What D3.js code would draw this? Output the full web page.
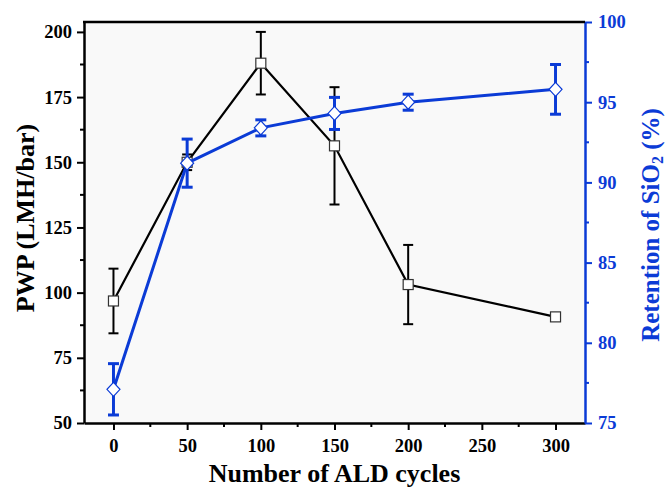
<!DOCTYPE html>
<html><head><meta charset="utf-8">
<script src="https://cdn.jsdelivr.net/npm/d3@7"></script>
<style>body{margin:0;background:#fff}svg{display:block}svg text{font-family:"Liberation Serif",serif;font-weight:bold}</style>
</head><body>
<script>
const cycles = [0, 50, 100, 150, 200, 300];
const pwp = [96.8, 150, 188, 156.3, 103.1, 90.7];
const pwpErr = [12.4, 3, 12, 22.5, 15.2, 1];
const retention = [77.1, 91.2, 93.4, 94.3, 95.0, 95.8];
const retentionErr = [1.6, 1.5, 0.5, 1.0, 0.5, 1.55];
const xTicks = [0, 50, 100, 150, 200, 250, 300];
const leftTicks = [50, 75, 100, 125, 150, 175, 200];
const rightTicks = [75, 80, 85, 90, 95, 100];

const W = 668, H = 487;
const m = {l: 84, t: 22, r: 585, b: 423};
const BLUE = "#0b3bd6";
const FONT = "Liberation Serif";

const svg = d3.select("body").append("svg").attr("width", W).attr("height", H);
const x = d3.scaleLinear().domain([-20, 320]).range([m.l, m.r]);
const yL = d3.scaleLinear().domain([50, 203.8]).range([m.b, m.t]);
const yR = d3.scaleLinear().domain([75, 100]).range([m.b, m.t]);

svg.append("rect").attr("x", m.l).attr("y", m.t).attr("width", m.r - m.l).attr("height", m.b - m.t)
  .attr("fill", "#f9f9f9");

function styleAxis(g, color) {
  g.attr("font-family", FONT);
  g.selectAll("path").attr("stroke", color).attr("stroke-width", 2.5);
  g.selectAll("line").attr("stroke", color).attr("stroke-width", 2);
  g.selectAll("text").attr("fill", color).style("font-family", FONT).style("font-weight", "bold").style("font-size", "18.5px");
}

const xMinor = d3.range(25, 325, 50);
const lMinor = d3.range(62.5, 200, 25);
const rMinor = d3.range(77.5, 100, 5);

const gx = svg.append("g").attr("transform", `translate(0,${m.b})`)
  .call(d3.axisBottom(x).tickValues(xTicks).tickSize(7).tickSizeOuter(0).tickPadding(9));
gx.selectAll("minor").data(xMinor).enter().append("line")
  .attr("x1", d => x(d)).attr("x2", d => x(d)).attr("y1", 0).attr("y2", 4);
styleAxis(gx, "#000");

const gl = svg.append("g").attr("transform", `translate(${m.l},0)`)
  .call(d3.axisLeft(yL).tickValues(leftTicks).tickSize(7).tickSizeOuter(0).tickPadding(5));
gl.selectAll("minor").data(lMinor).enter().append("line")
  .attr("x1", 0).attr("x2", -4).attr("y1", d => yL(d)).attr("y2", d => yL(d));
styleAxis(gl, "#000");

const gr = svg.append("g").attr("transform", `translate(${m.r},0)`)
  .call(d3.axisRight(yR).tickValues(rightTicks).tickSize(7).tickSizeOuter(0).tickPadding(6));
gr.selectAll("minor").data(rMinor).enter().append("line")
  .attr("x1", 0).attr("x2", 4).attr("y1", d => yR(d)).attr("y2", d => yR(d));
styleAxis(gr, BLUE);

// top frame
svg.append("line").attr("x1", m.l - 1).attr("x2", m.r).attr("y1", m.t).attr("y2", m.t)
  .attr("stroke", "#000").attr("stroke-width", 2.5);

const pwpData = cycles.map((c, i) => ({x: c, y: pwp[i], e: pwpErr[i]}));
const retData = cycles.map((c, i) => ({x: c, y: retention[i], e: retentionErr[i]}));

// PWP series
svg.append("path").datum(pwpData)
  .attr("d", d3.line().x(d => x(d.x)).y(d => yL(d.y)))
  .attr("fill", "none").attr("stroke", "#000").attr("stroke-width", 2.2);
const eb1 = svg.append("g").attr("stroke", "#000").attr("stroke-width", 2);
pwpData.forEach(d => {
  eb1.append("line").attr("x1", x(d.x)).attr("x2", x(d.x)).attr("y1", yL(d.y - d.e)).attr("y2", yL(d.y + d.e));
  [d.y - d.e, d.y + d.e].forEach(v => eb1.append("line").attr("x1", x(d.x) - 5).attr("x2", x(d.x) + 5).attr("y1", yL(v)).attr("y2", yL(v)));
});
svg.append("g").selectAll("rect").data(pwpData).enter().append("rect")
  .attr("x", d => x(d.x) - 5).attr("y", d => yL(d.y) - 5).attr("width", 10).attr("height", 10)
  .attr("fill", "#fff").attr("stroke", "#333").attr("stroke-width", 1.2);

// Retention series
svg.append("path").datum(retData)
  .attr("d", d3.line().x(d => x(d.x)).y(d => yR(d.y)))
  .attr("fill", "none").attr("stroke", BLUE).attr("stroke-width", 3);
const eb2 = svg.append("g").attr("stroke", BLUE).attr("stroke-width", 3);
retData.forEach(d => {
  eb2.append("line").attr("x1", x(d.x)).attr("x2", x(d.x)).attr("y1", yR(d.y - d.e)).attr("y2", yR(d.y + d.e));
  [d.y - d.e, d.y + d.e].forEach(v => eb2.append("line").attr("x1", x(d.x) - 5.5).attr("x2", x(d.x) + 5.5).attr("y1", yR(v)).attr("y2", yR(v)));
});
svg.append("g").selectAll("path").data(retData).enter().append("path")
  .attr("d", d => `M${x(d.x)},${yR(d.y) - 7}L${x(d.x) + 6.5},${yR(d.y)}L${x(d.x)},${yR(d.y) + 7}L${x(d.x) - 6.5},${yR(d.y)}Z`)
  .attr("fill", "#fff").attr("stroke", BLUE).attr("stroke-width", 1.2);

// Titles
function title(sel, color, size) {
  return sel.attr("text-anchor", "middle").attr("fill", color)
    .style("font-family", FONT).style("font-weight", "bold").style("font-size", size + "px");
}
title(svg.append("text").attr("x", (m.l + m.r) / 2).attr("y", 482), "#000", 26).text("Number of ALD cycles");
title(svg.append("text").attr("transform", `translate(34,218) rotate(-90)`), "#000", 26).text("PWP (LMH/bar)");
const rt = title(svg.append("text").attr("transform", `translate(659,225) rotate(-90)`), BLUE, 25);
rt.append("tspan").text("Retention of SiO");
rt.append("tspan").style("font-size", "16px").attr("dy", 4).text("2");
rt.append("tspan").attr("dy", -4).text(" (%)");
</script>
</body></html>
